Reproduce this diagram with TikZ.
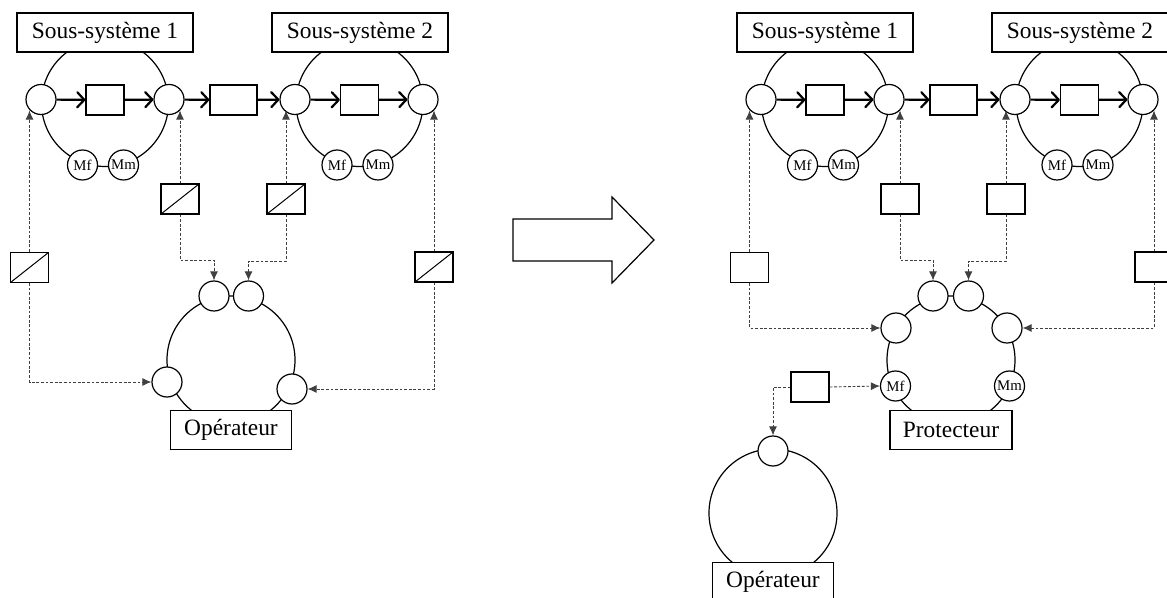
\documentclass[tikz,border=0pt]{standalone}
\usepackage{fontspec}
\setmainfont{Liberation Serif}
\usetikzlibrary{arrows.meta}

\begin{document}
\begin{tikzpicture}[x=0.5pt, y=-0.5pt, line width=0.6pt,
    port/.style={circle, draw, fill=white, minimum size=15pt, inner sep=0pt},
    mem/.style={port, font=\fontsize{7.4}{8}\selectfont},
    blk/.style={rectangle, draw, fill=white, minimum width=19pt, minimum height=15pt, inner sep=0pt},
    conv/.style={blk, path picture={\draw[line width=0.5pt] (path picture bounding box.south west) -- (path picture bounding box.north east);}},
    title/.style={rectangle, draw, fill=white, minimum height=19.5pt, inner sep=2pt, font=\fontsize{11.7}{14}\selectfont},
    flow/.style={line width=1.1pt, -{Straight Barb[length=3.5pt, width=7.5pt, round]}},
    sig/.style={line width=0.45pt, black!75, dash pattern=on 1.4pt off 0.9pt, -{Latex[length=4.5pt, width=4pt]}}]
    \useasboundingbox (0,0) rectangle (1167,598);
    % rings
    \draw (105,103) circle[radius=31.75pt];
    \draw (359.5,103) circle[radius=31.75pt];
    \draw (231,360) circle[radius=32pt];
    \draw (825,103) circle[radius=31.75pt];
    \draw (1079.5,103) circle[radius=31.75pt];
    \draw (951,360) circle[radius=32pt];
    \draw (773,513) circle[radius=32pt];
    % left: sub-systems
    \node[title, minimum width=88pt] (ss1) at (105,32.5) {Sous-système 1};
    \node[title, minimum width=88pt] (ss2) at (360,32.5) {Sous-système 2};
    \node[port] (a1) at (41,99.5) {};
    \node[port] (a2) at (169,99.5) {};
    \node[port] (b1) at (295,99.5) {};
    \node[port] (b2) at (423,99.5) {};
    \node[blk] (k1) at (105,100) {};
    \node[blk, minimum width=23.5pt] (km) at (233.5,100) {};
    \node[blk] (k2) at (359.5,100) {};
    \node[mem] (mf1) at (82.5,165) {Mf};
    \node[mem] (mm1) at (123.5,165) {Mm};
    \node[mem] (mf2) at (337,165) {Mf};
    \node[mem] (mm2) at (378,165) {Mm};
    \node[conv] (cv1) at (29.5,267.5) {};
    \node[conv] (cv2) at (180,199) {};
    \node[conv] (cv3) at (286,199) {};
    \node[conv] (cv4) at (434,267) {};
    % left: operator
    \node[port] (o1) at (214,296) {};
    \node[port] (o2) at (248.5,296) {};
    \node[port] (o3) at (167,382) {};
    \node[port] (o4) at (292,389) {};
    \node[title, minimum width=60.5pt] (op1) at (231,430) {Opérateur};
    \coordinate (j1) at (214,260);
    \coordinate (j2) at (248.5,261);
    \draw[flow] (a1) -- (k1);
    \draw[flow] (k1) -- (a2);
    \draw[flow] (a2) -- (km);
    \draw[flow] (km) -- (b1);
    \draw[flow] (b1) -- (k2);
    \draw[flow] (k2) -- (b2);
    \draw[sig] (cv1.north) -- (cv1.north |- a1.-135);
    \draw[sig] (cv1.south) |- (o3.west);
    \draw[sig] (cv4.north) -- (cv4.north |- b2.-45);
    \draw[sig] (cv4.south) |- (o4.east);
    \draw[sig] (cv2.north) -- (cv2.north |- a2.-45);
    \draw[sig] (cv2.south) |- (j1) -- (o1);
    \draw[sig] (cv3.north) -- (cv3.north |- b1.-135);
    \draw[sig] (cv3.south) |- (j2) -- (o2);
    % big arrow
    \draw (513,219) -- (612,219) -- (612,197) -- (654,240) -- (612,283) -- (612,261) -- (513,261) -- cycle;
    % right: sub-systems
    \node[title, minimum width=88pt] (ss3) at (825,32.5) {Sous-système 1};
    \node[title, minimum width=88pt] (ss4) at (1080,32.5) {Sous-système 2};
    \node[port] (p1) at (761,99.5) {};
    \node[port] (p2) at (889,99.5) {};
    \node[port] (q1) at (1015,99.5) {};
    \node[port] (q2) at (1143,99.5) {};
    \node[blk] (k3) at (825,100) {};
    \node[blk, minimum width=23.5pt] (kn) at (953.5,100) {};
    \node[blk] (k4) at (1079.5,100) {};
    \node[mem] (mf3) at (802.5,165) {Mf};
    \node[mem] (mm3) at (843.5,165) {Mm};
    \node[mem] (mf4) at (1057,165) {Mf};
    \node[mem] (mm4) at (1098,165) {Mm};
    \node[blk] (r1) at (749.5,267.5) {};
    \node[blk] (r2) at (900,199) {};
    \node[blk] (r3) at (1006,199) {};
    \node[blk] (r4) at (1154,267) {};
    % right: protector
    \node[port] (t1) at (933,296) {};
    \node[port] (t2) at (968.5,296) {};
    \node[port] (s1) at (896,328) {};
    \node[port] (s2) at (1007,328) {};
    \node[mem] (mf5) at (895.5,386) {Mf};
    \node[mem] (mm5) at (1009.5,386) {Mm};
    \node[title, minimum width=61pt] (pr) at (951,430) {Protecteur};
    \node[blk] (r5) at (810,387) {};
    % right: operator
    \node[port] (u1) at (773,451) {};
    \node[title, minimum width=60.5pt] (op2) at (773,582) {Opérateur};
    \coordinate (j3) at (933,260);
    \coordinate (j4) at (968.5,261);
    \draw[flow] (p1) -- (k3);
    \draw[flow] (k3) -- (p2);
    \draw[flow] (p2) -- (kn);
    \draw[flow] (kn) -- (q1);
    \draw[flow] (q1) -- (k4);
    \draw[flow] (k4) -- (q2);
    \draw[sig] (r1.north) -- (r1.north |- p1.-135);
    \draw[sig] (r1.south) |- (s1.west);
    \draw[sig] (r4.north) -- (r4.north |- q2.-45);
    \draw[sig] (r4.south) |- (s2.east);
    \draw[sig] (r2.north) -- (r2.north |- p2.-45);
    \draw[sig] (r2.south) |- (j3) -- (t1);
    \draw[sig] (r3.north) -- (r3.north |- q1.-135);
    \draw[sig] (r3.south) |- (j4) -- (t2);
    \draw[sig] (r5.east) -- (mf5.west);
    \draw[sig] (r5.west) -| (u1.north);
\end{tikzpicture}
\end{document}
